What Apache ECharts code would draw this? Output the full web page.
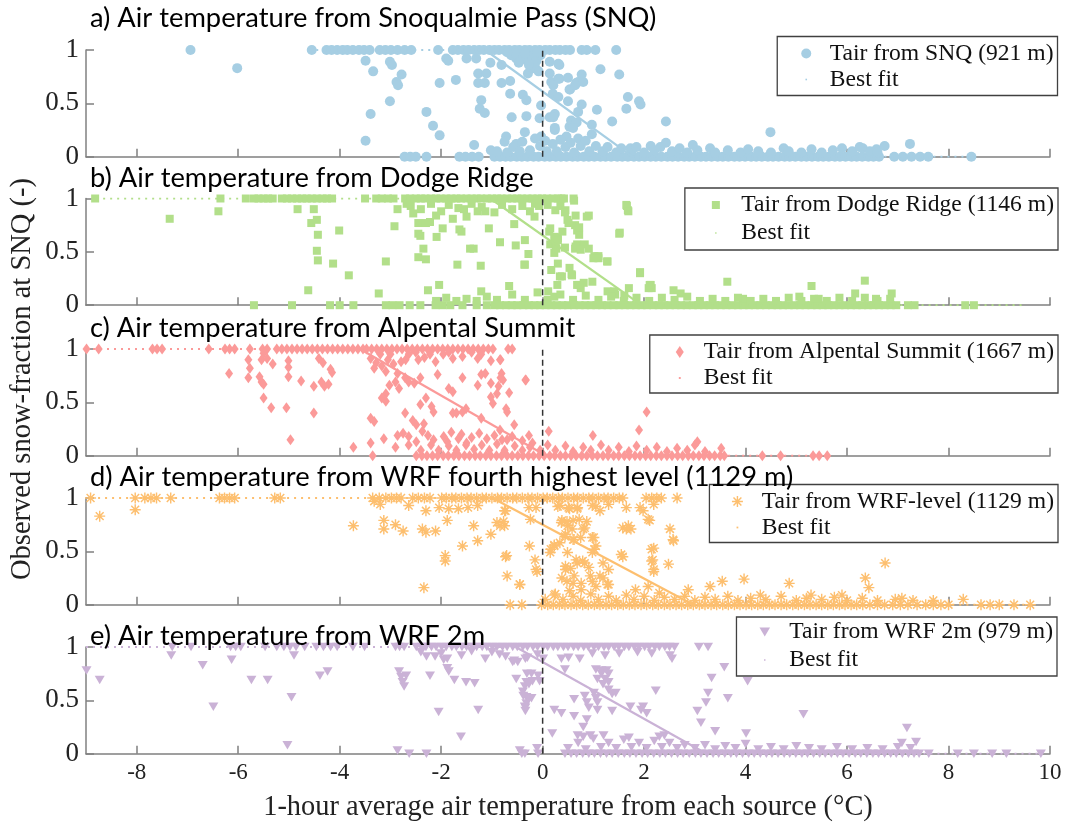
<!DOCTYPE html>
<html><head><meta charset="utf-8">
<script src="https://cdn.jsdelivr.net/npm/echarts@6/dist/echarts.min.js"></script>
<style>html,body{margin:0;padding:0;background:#fff}#c{width:1068px;height:826px}</style>
</head><body><div id="c"></div>
<script>
// ---------------- DATA ----------------
const xTicks = [-8,-6,-4,-2,0,2,4,6,8,10];
const titles = [
  'a) Air temperature from Snoqualmie Pass (SNQ)',
  'b) Air temperature from Dodge Ridge',
  'c) Air temperature from Alpental Summit',
  'd) Air temperature from WRF fourth highest level (1129 m)',
  'e) Air temperature from WRF 2m'
];
const labels = ['Tair from SNQ (921 m)','Tair from Dodge Ridge (1146 m)','Tair from Alpental Summit (1667 m)','Tair from WRF-level (1129 m)','Tair from WRF 2m (979 m)'];
const fitName = 'Best fit';
const xName = '1-hour average air temperature from each source (\u00B0C)';
const yName = 'Observed snow-fraction at SNQ (-)';
const zeroLine = [[0,0],[0,1]];

// best-fit breakpoints [T where fit leaves 1, T where fit reaches 0] and span of the fit
const aFit = [-1.13,1.77], aSpan = [-4.6,8.5];
const bFit = [-1.03,1.95], bSpan = [-8.8,9.5];
const cFit = [-3.6,0.07],  cSpan = [-9.0,5.6];
const dFit = [-0.99,2.97], dSpan = [-8.9,9.6];
const eFit = [-0.53,3.23], eSpan = [-9.0,9.8];

// panel a: SNQ
const aTop = [-6.94,-4.55,-4.26,-4.16,-4.05,-3.94,-3.85,-3.74,-3.62,-3.52,-3.41,-3.21,-3.1,-2.99,-2.86,-2.72,-2.59,-2.06,-1.77,-1.67,-1.56,-1.46,-1.35,-1.25,-1.16,-1.05,-0.95,-0.86,-0.75,-0.66,-0.55,-0.46,-0.35,-0.26,-0.15,-0.06,0.05,0.14,0.25,0.34,0.45,0.54,0.77,0.87,1.04,1.45];
const aBottom = [-2.72,-2.61,-2.5,-2.29,-1.64,-1.52,-1.39,-1.26,-0.95,-0.84,-0.73,-0.63,-0.51,-0.41,-0.3,-0.18,-0.08,0.04,0.14,0.26,0.36,0.47,0.59,0.69,0.81,0.91,1.02,1.14,1.24,1.35,1.47,1.57,1.68,1.8,1.9,2.01,2.13,2.23,2.34,2.46,2.56,2.67,2.79,2.89,3.0,3.12,3.22,3.33,3.45,3.55,3.66,3.78,3.88,3.99,4.11,4.21,4.32,4.44,4.54,4.65,4.77,4.87,4.98,5.1,5.2,5.31,5.43,5.53,5.64,5.76,5.86,5.97,6.09,6.19,6.3,6.42,6.52,6.63,6.93,7.1,7.27,7.44,7.6,8.45];
const aMid = [[-6.02,0.83],[-3.49,0.9],[-3.34,0.8],[-3.01,0.89],[-2.97,0.86],[-2.78,0.77],[-2.88,0.7],[-2.85,0.67],[-3.01,0.52],[-3.39,0.4],[-3.49,0.15],[-2.29,0.42],[-2.16,0.29],[-2.03,0.2],[-2.03,0.69],[-1.9,0.92],[-1.86,0.9],[-1.71,0.72],[-1.5,0.92],[-1.31,0.92],[-1.35,0.11],[-1.27,0.78],[-1.11,0.78],[-1.27,0.69],[-1.14,0.69],[-1.21,0.53],[-1.24,0.45],[-1.14,0.41],[-1.03,0.88],[-1.02,0.06],[-0.81,0.69],[-0.64,0.71],[-0.81,0.86],[-0.72,0.19],[-0.64,0.59],[-0.61,0.37],[-0.52,0.12],[-0.39,0.58],[-0.32,0.53],[-0.32,0.38],[-0.35,0.23],[-0.29,0.78],[-0.19,0.83],[-0.06,0.36],[-0.03,0.48],[-0.03,0.19],
[-0.62,0.95],[-0.52,0.92],[-0.42,0.96],[-0.32,0.91],[-0.22,0.94],[-0.12,0.9],[-0.04,0.95],[-0.15,0.84],[-0.27,0.86],[-0.47,0.88],[-0.08,0.8],[-0.55,0.97],[-0.35,0.97],[-0.7,0.98],[-0.1,0.98],
[0.14,0.89],[0.33,0.86],[0.14,0.78],[0.17,0.7],[0.2,0.59],[0.14,0.37],[0.24,0.27],[0.33,0.73],[0.5,0.52],[0.53,0.63],[0.53,0.28],[0.56,0.34],[0.66,0.69],[0.7,0.42],[0.31,0.87],[0.31,0.73],[0.21,0.67],[0.5,0.74],[0.7,0.7],[0.8,0.7],[0.77,0.77],[0.54,0.63],[0.64,0.67],[1.14,0.82],[1.51,0.77],[0.31,0.56],[0.77,0.49],[1.07,0.44],[0.24,0.4],[0.21,0.37],[0.67,0.32],[0.6,0.27],[0.97,0.3],[1.37,0.33],[1.68,0.56],[1.9,0.52],[1.93,0.49],[1.65,0.45],[2.43,0.33],[0.24,0.25],[4.49,0.23],[0.97,0.21],[0.7,0.17],[0.47,0.19],[2.96,0.11],[7.24,0.12],[6.31,0.08],[6.58,0.07],[6.74,0.1],[4.75,0.08],[2.43,0.13],[2.13,0.1],[1.73,0.08],
[-0.9,0.05],[-0.75,0.14],[-0.7,0.04],[-0.58,0.09],[-0.45,0.05],[-0.4,0.14],[-0.25,0.06],[-0.15,0.17],[-0.05,0.1],[0.05,0.15],[0.08,0.05],[0.2,0.12],[0.28,0.05],[0.35,0.16],[0.45,0.09],[0.55,0.13],[0.62,0.04],[0.75,0.1],[0.85,0.15],[0.92,0.05],[1.05,0.1],[1.18,0.05],[1.28,0.09],[1.45,0.04],[1.55,0.08],[1.75,0.05],[1.85,0.09],[2.0,0.04],[2.2,0.06],[2.32,0.09],[2.55,0.05],[2.7,0.08],[2.85,0.04],[3.05,0.06],[3.3,0.08],[3.4,0.04],[3.65,0.06],[3.9,0.04],[4.05,0.07],[4.25,0.05],[4.5,0.04],[4.85,0.05],[5.1,0.04],[5.3,0.07],[5.5,0.04],[5.72,0.06],[5.9,0.08],[6.1,0.05],[6.25,0.09],[6.45,0.05],[6.6,0.04]];

// panel b: Dodge Ridge
const bTop = [-8.82,-6.35,-5.85,-5.69,-5.6,-5.5,-5.41,-5.32,-5.14,-5.04,-4.94,-4.84,-4.74,-4.65,-4.55,-4.45,-4.34,-4.25,-4.15,-3.5,-3.28,-3.17,-3.05,-2.94,-2.71,-2.61,-2.5,-2.4,-2.31,-2.2,-2.1,-2.01,-1.9,-1.8,-1.7,-1.61,-1.5,-1.4,-1.3,-1.21,-1.1,-1.0,-0.9,-0.81,-0.7,-0.6,-0.5,-0.41,-0.3,-0.2,-0.1,-0.01,0.09,0.2,0.3,0.37,0.42,0.61];
const bBottom = [-5.69,-4.94,-4.19,-4.0,-3.73,-3.09,-2.96,-2.82,-2.62,-2.41,-2.11,-1.97,-1.82,-1.58,-1.3,-1.1,-0.95,-0.84,-0.72,-0.61,-0.5,-0.38,-0.27,-0.16,-0.05,0.06,0.17,0.28,0.39,0.5,0.62,0.73,0.84,0.95,1.06,1.17,1.28,1.4,1.51,1.62,1.73,1.84,1.95,2.06,2.18,2.29,2.4,2.51,2.62,2.73,2.84,2.96,3.07,3.18,3.29,3.4,3.51,3.62,3.74,3.85,3.96,4.07,4.18,4.29,4.4,4.52,4.63,4.74,4.85,4.96,5.07,5.18,5.3,5.41,5.52,5.63,5.74,5.85,5.96,6.08,6.19,6.3,6.41,6.52,6.63,6.74,6.86,6.97,7.2,7.33,8.33,8.5];
const bMid = [[-7.35,0.81],[-6.39,0.88],[-4.83,0.9],[-4.51,0.9],[-4.56,0.77],[-4.45,0.8],[-4.43,0.66],[-4.45,0.51],[-4.43,0.42],[-4.13,0.39],[-4.01,0.7],[-3.82,0.28],[-4.62,0.14],[-3.09,0.41],[-3.23,0.11],[-2.86,0.9],[-2.68,0.95],[-2.92,0.74],[-2.45,0.77],[-2.3,0.77],[-2.22,0.78],[-2.45,0.67],[-2.41,0.65],[-2.09,0.64],[-2.35,0.53],[-2.45,0.45],[-2.3,0.43],[-1.97,0.72],[-1.85,0.94],[-1.66,0.91],[-1.77,0.81],[-1.64,0.71],[-1.6,0.69],[-1.68,0.38],[-1.43,0.53],[-1.36,0.53],[-1.22,0.37],[-1.28,0.88],[-1.13,0.88],[-1.06,0.72],[-0.84,0.59],[-0.66,0.18],[-0.53,0.56],[-0.36,0.38],[-0.56,0.76],[-2.26,0.14],[-2.04,0.19],[-1.21,0.13],[-0.15,0.95],[-0.07,0.93],[-0.16,0.83],
[-2.6,0.93],[-2.4,0.9],[-2.2,0.95],[-2.0,0.88],[-1.55,0.9],[-1.4,0.95],[-1.2,0.92],[-0.95,0.87],[-0.8,0.94],[-0.6,0.9],[-0.4,0.93],[-0.25,0.88],[0.1,0.94],[0.25,0.89],[0.35,0.93],[-2.55,0.86],[-2.1,0.84],[-1.5,0.83],
[0.15,0.72],[0.23,0.64],[0.3,0.63],[0.15,0.57],[0.26,0.55],[0.23,0.49],[0.45,0.89],[0.62,0.98],[0.49,0.8],[0.39,0.69],[0.64,0.75],[0.7,0.72],[0.72,0.66],[0.68,0.57],[0.64,0.53],[0.53,0.35],[0.57,0.29],[0.3,0.39],[0.38,0.27],[0.29,0.19],[0.11,0.13],[0.23,0.08],[0.91,0.84],[0.83,0.57],[0.91,0.53],[1.02,0.46],[1.1,0.46],[1.28,0.41],[0.68,0.19],[0.75,0.16],[0.81,0.21],[0.98,0.22],[1.51,0.67],[1.65,0.94],[1.68,0.89],[1.92,0.3],[2.11,0.19],[2.15,0.16],[1.7,0.16],[1.43,0.1],[1.28,0.13],
[0.44,0.87],[0.65,0.84],[0.87,0.83],[1.66,0.93],[1.69,0.88],[1.52,0.68],[0.51,0.77],[0.68,0.7],[0.72,0.73],[0.13,0.69],[0.24,0.64],[0.3,0.61],[0.27,0.53],[0.44,0.54],[0.65,0.55],[0.75,0.52],[1.0,0.44],[1.1,0.44],[1.27,0.41],[-0.35,0.61],[-0.28,0.48],[-0.35,0.38],[0.17,0.33],[0.34,0.27],[0.58,0.28],[0.72,0.19],[1.92,0.31],[2.13,0.19],[2.09,0.16],[1.41,0.13],[1.61,0.09],[3.64,0.22],[5.3,0.18],[6.35,0.23],[2.58,0.14],[2.72,0.11],[3.95,0.06],[5.06,0.08],[5.44,0.06],[6.16,0.11],[6.57,0.06],[6.88,0.11],
[-2.1,0.04],[-1.9,0.07],[-1.7,0.04],[-1.5,0.06],[-1.3,0.04],[-1.1,0.08],[-0.9,0.05],[-0.6,0.1],[-0.35,0.05],[-0.1,0.12],[0.1,0.05],[0.35,0.1],[0.6,0.05],[0.85,0.09],[1.1,0.05],[1.35,0.08],[1.6,0.04],[1.85,0.07],[2.1,0.04],[2.35,0.07],[2.6,0.05],[2.85,0.08],[3.1,0.04],[3.35,0.06],[3.6,0.04],[3.85,0.07],[4.1,0.04],[4.35,0.06],[4.6,0.04],[4.85,0.07],[5.1,0.04],[5.35,0.06],[5.6,0.04],[5.85,0.07],[6.1,0.04],[6.35,0.07],[6.6,0.04],[6.85,0.06]];

// panel c: Alpental Summit
const cTop = [-8.99,-8.75,-7.69,-7.6,-7.5,-6.58,-6.26,-6.17,-6.07,-5.77,-5.52,-5.43,-5.24,-5.14,-5.04,-4.94,-4.84,-4.74,-4.64,-4.54,-4.44,-4.34,-4.24,-4.14,-4.04,-3.94,-3.84,-3.74,-3.64,-3.54,-3.47,-3.37,-3.27,-3.17,-3.07,-2.97,-2.87,-2.77,-2.67,-2.57,-2.47,-2.37,-2.27,-2.17,-2.07,-1.97,-1.87,-1.77,-1.67,-1.57,-1.47,-1.37,-1.27,-1.17,-1.07,-0.98,-0.68,-0.6];
const cBottom = [-3.35,-2.49,-2.38,-2.28,-2.17,-2.07,-1.96,-1.86,-1.75,-1.65,-1.54,-1.44,-1.33,-1.23,-1.12,-1.02,-0.91,-0.81,-0.7,-0.6,-0.49,-0.39,-0.28,-0.18,-0.07,0.03,0.14,0.24,0.35,0.45,0.56,0.66,0.77,0.87,0.98,1.08,1.19,1.29,1.4,1.5,1.61,1.71,1.82,1.92,2.03,2.13,2.24,2.34,2.45,2.55,2.66,2.76,2.87,2.97,3.08,3.18,3.29,3.39,3.5,3.58,4.33,4.69,5.33,5.45,5.61];
const cMid = [[-5.8,0.9],[-5.77,0.82],[-5.5,0.96],[-5.54,0.9],[-5.43,0.91],[-5.32,0.86],[-5.01,0.89],[-5.01,0.83],[-4.41,0.91],[-4.33,0.87],[-4.18,0.81],[-4.15,0.78],[-6.18,0.77],[-5.8,0.73],[-5.58,0.74],[-5.54,0.69],[-5.5,0.67],[-5.01,0.74],[-4.76,0.7],[-4.51,0.65],[-4.36,0.69],[-4.3,0.65],[-4.22,0.67],[-5.5,0.54],[-5.35,0.45],[-5.05,0.45],[-4.51,0.4],[-4.97,0.15],
[-3.39,0.91],[-3.28,0.87],[-3.17,0.84],[-3.05,0.9],[-2.94,0.86],[-2.79,0.88],[-2.64,0.95],[-2.45,0.9],[-2.33,0.92],[-2.22,0.95],[-2.11,0.88],[-1.96,0.95],[-1.77,0.91],[-1.58,0.93],[-1.28,0.91],[-1.21,0.95],[-1.02,0.89],[-0.83,0.9],[-3.0,0.95],[-2.5,0.97],[-1.85,0.97],[-1.4,0.97],[-3.2,0.95],[-2.7,0.9],
[-3.32,0.82],[-3.09,0.79],[-2.86,0.77],[-2.71,0.73],[-2.9,0.69],[-2.83,0.63],[-3.02,0.66],[-3.09,0.58],[-3.17,0.54],[-3.09,0.51],[-2.64,0.69],[-2.53,0.68],[-2.41,0.73],[-2.07,0.76],[-1.85,0.63],[-1.77,0.6],[-1.58,0.73],[-1.28,0.66],[-1.21,0.76],[-1.13,0.77],[-1.02,0.68],[-0.87,0.65],[-0.83,0.73],[-0.34,0.71],[-2.71,0.4],[-2.56,0.33],[-2.49,0.29],[-2.37,0.23],[-2.34,0.3],[-2.15,0.41],[-2.19,0.46],[-2.3,0.54],[-2.41,0.48],[-1.77,0.4],[-1.7,0.4],[-1.58,0.41],[-1.51,0.44],[-1.21,0.35],[-0.98,0.49],[-1.02,0.55],[-0.9,0.58],[-0.72,0.44],[-0.56,0.29],[-3.39,0.35],[-3.32,0.32],[-3.13,0.16],[-2.86,0.19],[-2.75,0.21],[-2.64,0.18],[-3.39,0.12],[-3.73,0.08],[-2.9,0.08],[-2.64,0.1],[-2.49,0.13],[-2.26,0.19],[-2.15,0.15],[-1.88,0.13],[-1.66,0.16],[-1.51,0.1],
[-0.84,0.9],[-0.81,0.77],[-0.78,0.71],[-0.66,0.59],[-0.7,0.41],[-0.33,0.71],[-0.27,0.19],[-0.7,0.15],[-0.84,0.24],[0.12,0.23],[0.99,0.19],[1.9,0.24],[2.05,0.41],[3.05,0.13],[3.52,0.07],
[-1.95,0.18],[-1.8,0.22],[-1.6,0.2],[-1.4,0.17],[-1.25,0.21],[-1.1,0.16],[-0.95,0.19],[-0.8,0.15],[-0.6,0.18],[-0.4,0.14],[-0.2,0.12],
[-2.4,0.05],[-2.2,0.1],[-2.05,0.05],[-1.85,0.09],[-1.7,0.05],[-1.5,0.12],[-1.35,0.06],[-1.2,0.1],[-1.05,0.05],[-0.9,0.11],[-0.75,0.05],[-0.55,0.09],[-0.4,0.05],[-0.25,0.08],[-0.05,0.05],[0.1,0.1],[0.25,0.05],[0.45,0.09],[0.6,0.04],[0.8,0.08],[0.95,0.05],[1.15,0.1],[1.3,0.05],[1.5,0.08],[1.7,0.04],[1.85,0.09],[2.05,0.05],[2.25,0.08],[2.45,0.04],[2.65,0.07],[2.85,0.05],[3.0,0.1],[3.2,0.04]];

// panel d: WRF level
const dTop = [-8.91,-8.03,-7.84,-7.72,-7.61,-7.33,-6.37,-6.27,-6.17,-6.07,-5.28,-5.17,-3.35,-3.22,-3.09,-2.98,-2.88,-2.79,-2.56,-2.45,-2.33,-2.22,-1.99,-1.9,-1.79,-1.71,-1.6,-1.49,-1.41,-1.3,-1.19,-1.11,-1.0,-0.89,-0.81,-0.7,-0.59,-0.51,-0.4,-0.29,-0.21,-0.1,0.01,0.09,0.2,0.31,0.39,0.5,0.61,0.69,0.8,0.91,0.99,1.1,1.21,1.29,1.4,1.51,1.58,2.04,2.15,2.25,2.34,2.65];
const dBottom = [-0.64,-0.41,-0.02,0.1,0.21,0.33,0.44,0.56,0.67,0.79,0.9,1.02,1.13,1.25,1.36,1.48,1.59,1.71,1.82,1.94,2.05,2.17,2.28,2.4,2.51,2.63,2.74,2.86,2.97,3.09,3.2,3.32,3.43,3.55,3.66,3.78,3.89,4.01,4.12,4.24,4.35,4.47,4.58,4.7,4.81,4.93,5.04,5.16,5.27,5.39,5.5,5.62,5.73,5.85,5.96,6.08,6.19,6.31,6.45,6.6,6.74,6.9,7.05,7.2,7.38,7.55,7.7,7.85,8.0,8.64,8.82,9.0,9.29,9.61];
const dMid = [[-8.73,0.83],[-8.03,0.89],[-3.32,0.97],[-3.2,0.94],[-3.73,0.74],[-3.13,0.79],[-3.13,0.71],[-2.9,0.75],[-2.75,0.69],[-2.64,0.93],[-2.3,0.88],[-2.37,0.71],[-2.3,0.68],[-2.11,0.69],[-2.04,0.91],[-1.85,0.9],[-1.66,0.9],[-1.47,0.91],[-1.28,0.93],[-1.88,0.79],[-1.36,0.74],[-1.58,0.55],[-1.28,0.6],[-1.02,0.66],[-0.9,0.77],[-0.75,0.74],[-0.75,0.88],[-1.92,0.46],[-1.92,0.41],[-0.71,0.46],[-0.26,0.55],[-0.15,0.42],[-0.11,0.31],[-2.34,0.16],[-0.45,0.19],
[0.34,0.93],[0.53,0.9],[0.68,0.9],[0.98,0.93],[1.13,0.88],[0.38,0.79],[0.49,0.74],[0.6,0.79],[0.72,0.8],[0.45,0.66],[0.6,0.61],[0.75,0.63],[0.83,0.72],[0.98,0.63],[1.02,0.52],[0.23,0.55],[0.15,0.49],[0.49,0.49],[0.45,0.36],[0.68,0.39],[0.91,0.35],[0.79,0.41],[0.38,0.25],[0.45,0.33],[0.6,0.2],[0.98,0.22],[1.13,0.27],[1.28,0.19],[0.53,0.13],[0.23,0.09],[1.58,0.72],[1.74,0.71],[1.92,0.91],[2.11,0.79],[2.19,0.53],[2.17,0.42],[2.19,0.31],[1.55,0.47],[2.57,0.61],
[-0.73,0.88],[-0.27,0.91],[-0.13,0.91],[0.3,0.92],[0.51,0.91],[0.69,0.91],[1.05,0.92],[1.3,0.94],[1.65,0.91],[1.98,0.88],[2.08,0.8],[2.19,0.94],[-0.84,0.74],[-0.77,0.78],[-0.24,0.8],[0.37,0.77],[0.48,0.78],[0.58,0.71],[0.8,0.71],[0.87,0.78],[0.44,0.64],[0.23,0.56],[0.16,0.52],[0.34,0.58],[0.62,0.61],[1.01,0.63],[1.05,0.55],[0.83,0.39],[0.98,0.49],[0.66,0.42],[0.55,0.34],[0.62,0.27],[0.48,0.22],[0.76,0.2],[0.94,0.27],[1.19,0.39],[1.3,0.33],[1.19,0.25],[1.3,0.19],[1.05,0.17],[0.76,0.14],[1.58,0.45],[1.65,0.71],[1.69,0.74],[2.15,0.52],[2.15,0.41],[2.19,0.33],[2.51,0.71],[2.58,0.6],[2.48,0.38],[-0.73,0.45],[-0.13,0.33],[-0.45,0.19],[-0.7,0.27],
[1.83,0.14],[2.08,0.17],[2.3,0.11],[2.87,0.14],[3.3,0.17],[3.54,0.22],[3.97,0.24],[4.29,0.09],[4.86,0.2],[5.29,0.09],[5.9,0.09],[6.36,0.25],[6.43,0.16],[6.75,0.39],[7.08,0.06],[8.29,0.05],
[0.05,0.05],[0.25,0.1],[0.4,0.05],[0.6,0.08],[0.75,0.04],[0.95,0.1],[1.1,0.05],[1.3,0.08],[1.45,0.04],[1.65,0.09],[1.8,0.05],[2.0,0.08],[2.2,0.04],[2.4,0.07],[2.6,0.05],[2.8,0.08],[3.0,0.04],[3.2,0.07],[3.4,0.05],[3.65,0.08],[3.85,0.04],[4.1,0.06],[4.4,0.05],[4.7,0.08],[5.0,0.04],[5.2,0.06],[5.5,0.05],[5.75,0.07],[6.0,0.04],[6.3,0.06],[6.6,0.04],[6.95,0.05],[7.3,0.04],[7.7,0.04]];

// panel e: WRF 2m
const eTop = [-7.3,-6.93,-6.15,-6.05,-5.95,-5.47,-5.24,-5.1,-4.98,-4.86,-4.69,-4.46,-4.32,-4.18,-4.05,-3.74,-3.51,-2.9,-2.82,-2.73,-2.49,-2.39,-2.3,-2.19,-2.1,-1.99,-1.9,-1.79,-1.7,-1.59,-1.5,-1.39,-1.3,-1.19,-1.1,-0.99,-0.9,-0.79,-0.7,-0.59,-0.5,-0.39,-0.3,-0.19,-0.1,0.01,0.1,0.21,0.3,0.41,0.5,0.61,0.7,0.81,0.9,1.01,1.1,1.21,1.3,1.41,1.5,1.61,1.7,1.81,1.9,2.01,2.1,2.21,2.3,2.41,2.5,2.6,3.08,3.26];
const eBottom = [-2.63,-2.29,-0.41,-0.35,-0.09,0.44,0.56,0.67,0.79,0.91,1.02,1.14,1.26,1.37,1.49,1.61,1.72,1.84,1.96,2.07,2.19,2.31,2.42,2.54,2.66,2.77,2.89,3.01,3.12,3.24,3.36,3.47,3.59,3.71,3.82,3.94,4.06,4.17,4.29,4.41,4.52,4.64,4.76,4.87,4.99,5.11,5.22,5.34,5.46,5.57,5.69,5.81,5.92,6.04,6.16,6.27,6.39,6.51,6.62,6.74,6.86,6.97,7.09,7.21,7.32,7.42,7.61,8.18,8.5,8.86,9.14,9.82];
const eMid = [[-8.99,0.78],[-8.73,0.69],[-7.32,0.92],[-6.7,0.83],[-6.49,0.44],[-6.13,0.88],[-5.74,0.69],[-5.42,0.69],[-4.95,0.53],[-4.9,0.92],[-5.03,0.08],[-4.39,0.73],[-4.24,0.77],[-2.83,0.77],[-2.79,0.72],[-2.76,0.67],[-2.73,0.63],[-2.69,0.73],[-2.86,0.03],[-2.22,0.73],[-2.29,0.91],[-2.12,0.91],[-2.05,0.39],[-1.95,0.88],[-1.88,0.89],[-1.88,0.8],[-1.85,0.77],[-1.74,0.69],[-1.61,0.16],[-1.51,0.67],[-1.34,0.66],[-1.27,0.41],[-1.13,0.89],[-0.73,0.91],[-0.59,0.86],[-0.49,0.86],[-0.52,0.7],[-0.35,0.63],[-0.32,0.67],[-0.39,0.58],[-0.32,0.53],[-0.35,0.44],[-0.32,0.47],[-0.22,0.75],[-0.22,0.52],[-0.45,0.03],[-0.11,0.05],
[-2.4,0.95],[-2.0,0.94],[-1.6,0.92],[-1.0,0.95],[-0.85,0.93],[-0.3,0.9],[-0.1,0.93],[-1.4,0.96],
[-0.56,0.87],[-0.34,0.89],[0.01,0.89],[0.37,0.89],[0.51,0.9],[0.73,0.89],[0.98,0.94],[1.23,0.92],[1.51,0.94],[1.87,0.95],[2.15,0.94],[2.51,0.92],[2.55,0.89],[-0.31,0.75],[-0.27,0.65],[-0.2,0.68],[-0.09,0.73],[-0.06,0.68],[-0.38,0.54],[-0.27,0.52],[-0.34,0.43],[-0.34,0.4],[0.44,0.79],[1.05,0.79],[1.16,0.78],[1.26,0.78],[1.16,0.75],[1.23,0.7],[1.3,0.67],[1.3,0.75],[1.08,0.7],[1.19,0.65],[1.3,0.6],[1.37,0.56],[1.44,0.57],[1.01,0.57],[1.05,0.52],[1.08,0.48],[0.62,0.51],[0.83,0.54],[0.87,0.48],[0.91,0.43],[2.23,0.59],[0.23,0.41],[0.37,0.38],[0.62,0.35],[0.87,0.32],[0.8,0.25],[0.69,0.17],[0.94,0.17],[1.08,0.41],[1.37,0.4],[1.73,0.44],[1.94,0.41],[2.05,0.38],[1.98,0.44],[0.19,0.19],[3.58,0.81],[3.33,0.71],[3.26,0.57],[3.22,0.48],[3.65,0.52],[3.05,0.4],[3.12,0.29],[3.4,0.21],[4.04,0.68],[5.14,0.37],[4.01,0.19],[2.4,0.17],[7.18,0.24],[7.36,0.11],[7.08,0.1],
[0.5,0.05],[0.7,0.1],[0.85,0.04],[1.0,0.14],[1.15,0.06],[1.3,0.1],[1.45,0.05],[1.6,0.13],[1.75,0.06],[1.9,0.1],[2.05,0.05],[2.2,0.12],[2.35,0.06],[2.5,0.1],[2.65,0.05],[2.8,0.08],[3.0,0.05],[3.2,0.08],[3.4,0.04],[3.6,0.07],[3.8,0.05],[4.0,0.09],[4.25,0.04],[4.5,0.06],[4.75,0.04],[5.0,0.07],[5.25,0.05],[5.5,0.04],[5.8,0.06],[6.1,0.04],[6.4,0.05],[6.7,0.04],[7.0,0.06],[7.25,0.05],[0.8,0.16],[1.2,0.17],[1.7,0.15],[2.3,0.16]];

// ---------------- STYLE ----------------
const serif = "'Liberation Serif', 'Times New Roman', 'DejaVu Serif', serif";
const sans = "Lato";
const axisColor = '#808080';
const squarePath = 'path://M0,0L8,0L8,8L0,8Z';
const diamondPath = 'path://M4,0L8,6L4,12L0,6Z';
const asteriskPath = 'path://M0,8.7L20,8.7L20,11.3L0,11.3Z M11.3,0L11.3,20L8.7,20L8.7,0Z M3.8,1.9L18.1,16.2L16.2,18.1L1.9,3.8Z M1.9,16.2L16.2,1.9L18.1,3.8L3.8,18.1Z';
const triPath = 'path://M0,0L10,0L5,8.5Z';
const dotPath = 'path://M0,0M20,20M8.4,8.4L11.6,8.4L11.6,11.6L8.4,11.6Z';

const panels = [
  {top:aTop, bottom:aBottom, mid:aMid, fit:aFit, span:aSpan},
  {top:bTop, bottom:bBottom, mid:bMid, fit:bFit, span:bSpan},
  {top:cTop, bottom:cBottom, mid:cMid, fit:cFit, span:cSpan},
  {top:dTop, bottom:dBottom, mid:dMid, fit:dFit, span:dSpan},
  {top:eTop, bottom:eBottom, mid:eMid, fit:eFit, span:eSpan}
];
const styles = [
  {color:'#a6cee3', symbol:'circle', size:10, gridTop:50, titleBase:27.5, lg:{top:36.5, right:10.5, pad:[4,4,3,24], iw:37, ih:10, gap:0, icon:'circle'}},
  {color:'#b2df8a', symbol:'rect', size:8, gridTop:198.5, titleBase:188, lg:{top:188, right:10, pad:[4,4,4,27], iw:41, ih:8, gap:2, icon:squarePath}},
  {color:'#fb9a99', symbol:diamondPath, size:[8,11], gridTop:349, titleBase:338, lg:{top:335, right:10, pad:[4,4,2,24], iw:38, ih:12, gap:0, icon:diamondPath}},
  {color:'#fdbf6f', symbol:asteriskPath, size:11, gridTop:498, titleBase:487, lg:{top:484.5, right:10, pad:[4,4,2,22.5], iw:38.5, ih:11, gap:0, icon:asteriskPath}},
  {color:'#cab2d6', symbol:triPath, size:[10,8.5], gridTop:647, titleBase:646, lg:{top:617, right:11, pad:[2,4,3,23], iw:39, ih:9, gap:2, icon:triPath}}
];
const gridH = 106.7;

const ctx = document.createElement('canvas').getContext('2d');
ctx.font = '100px ' + sans;
const titleSize = Math.round(100 * 566 / ctx.measureText(titles[0]).width * 10) / 10;

const option = {animation:false, backgroundColor:'#fff', grid:[], xAxis:[], yAxis:[], series:[], legend:[], graphic:[]};
panels.forEach((p, i) => {
  const s = styles[i];
  const lineAx = {color:axisColor, width:1.5};
  option.grid.push({left:86, width:964, top:s.gridTop, height:gridH, outerBoundsMode:'none', containLabel:false});
  option.xAxis.push({type:'value', gridIndex:i, min:-9, max:10,
    axisLine:{show:true, onZero:false, lineStyle:lineAx},
    axisTick:{show:true, inside:true, length:8, customValues:xTicks, lineStyle:lineAx},
    axisLabel:{show:i===4, customValues:xTicks, fontFamily:serif, fontSize:23, color:'#222', margin:8},
    splitLine:{show:false},
    name:i===4 ? xName : '', nameLocation:'middle', nameGap:40,
    nameTextStyle:{fontFamily:serif, fontSize:28.4, color:'#222'}});
  option.yAxis.push({type:'value', gridIndex:i, min:0, max:1, interval:0.5,
    axisLine:{show:true, onZero:false, lineStyle:lineAx},
    axisTick:{show:true, inside:true, length:8, lineStyle:lineAx},
    axisLabel:{fontFamily:serif, fontSize:27, color:'#222', margin:7, formatter:v => String(v)},
    splitLine:{show:false}});
  const pts = p.top.map(x => [x, 1]).concat(p.bottom.map(x => [x, 0]), p.mid);
  option.series.push({type:'scatter', name:labels[i], xAxisIndex:i, yAxisIndex:i, data:pts,
    symbol:s.symbol, symbolSize:s.size, itemStyle:{color:s.color, opacity:1}, clip:false, z:2, silent:true});
  option.series.push({type:'line', name:fitName, xAxisIndex:i, yAxisIndex:i,
    data:[[p.span[0],1],[p.fit[0],1],[p.fit[0],'-'],[p.fit[1],0],[p.span[1],0]],
    symbol:'none', lineStyle:{color:s.color, width:2, type:[2,5]}, z:3, silent:true});
  option.series.push({type:'line', name:fitName, xAxisIndex:i, yAxisIndex:i,
    data:[[p.fit[0],1],[p.fit[1],0]], symbol:'none', lineStyle:{color:s.color, width:2.2}, z:3, silent:true});
  option.series.push({type:'line', name:'zero'+i, xAxisIndex:i, yAxisIndex:i, data:zeroLine,
    symbol:'none', lineStyle:{color:'#333', width:1.5, type:[6,4]}, z:4, silent:true});
  option.legend.push({orient:'vertical', top:s.lg.top, right:s.lg.right, padding:s.lg.pad,
    itemWidth:s.lg.iw, itemHeight:s.lg.ih, itemGap:s.lg.gap, selectedMode:false,
    backgroundColor:'#fff', borderColor:'#404040', borderWidth:1.3, borderRadius:0,
    textStyle:{fontFamily:serif, fontSize:23.6, color:'#111', lineHeight:26},
    data:[{name:labels[i], icon:s.lg.icon, itemStyle:{color:s.color}},
          {name:fitName, icon:dotPath, itemStyle:{color:s.color, borderWidth:0}}]});
  option.graphic.push({type:'text', x:90, y:s.titleBase - 0.35*titleSize, z:50,
    style:{text:titles[i], font:titleSize+'px '+sans, fill:'#000', align:'left', verticalAlign:'middle', textAlign:'left', textVerticalAlign:'middle'}});
});
option.graphic.push({type:'text', x:23, y:379, rotation:Math.PI/2, z:50,
  style:{text:yName, font:'28.5px '+serif, fill:'#222', align:'center', verticalAlign:'middle', textAlign:'center', textVerticalAlign:'middle'}});

const chart = echarts.init(document.getElementById('c'), null, {renderer:'canvas'});
chart.setOption(option);
</script></body></html>
